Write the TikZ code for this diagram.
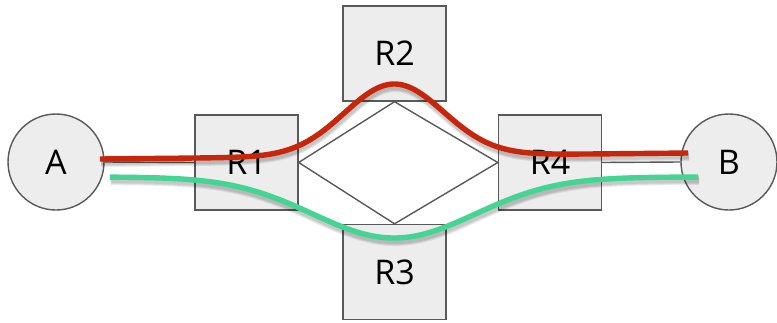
\documentclass[tikz,border=0pt]{standalone}
\usepackage{fontspec}
\setmainfont{Open Sans}
\begin{document}
\begin{tikzpicture}[x=1pt,y=-1pt,
  router/.style={draw=black!65,line width=1.4pt,fill=black!7,minimum width=103pt,minimum height=95pt,inner sep=0pt,font=\fontsize{34}{38}\selectfont},
  host/.style={draw=black!65,line width=1.4pt,fill=black!7,circle,minimum size=96pt,inner sep=0pt,font=\fontsize{34}{38}\selectfont},
  link/.style={draw=black!65,line width=1.4pt},
  route/.style={line width=5.4pt},
  routeshadow/.style={draw=black,opacity=0.08},
]
\useasboundingbox (0,0) rectangle (777,322);

% hosts and routers
\node[host] (A) at (56,162) {A};
\node[host] (B) at (729,162) {B};
\node[router] (R1) at (246.5,162.5) {R1};
\node[router] (R2) at (394.5,53.5) {R2};
\node[router] (R3) at (394.5,272) {R3};
\node[router] (R4) at (550,162.5) {R4};

% links between the devices
\draw[link] (A.east) -- (R1.west);
\draw[link] (R4.east) -- (B.west);
\draw[link] (R1.east) -- (R2.south) -- (R4.west) -- (R3.north) -- cycle;

% route profiles: a straight base with a bell-shaped detour
\def\upper#1{159-6*(#1-100)/588-72*exp(-((#1-394)/70)^2)}
\def\lower#1{177+61*exp(-((#1-394)/115)^2)}

% soft shadows under the two routes
\foreach \w in {10,8,6}{
  \draw[routeshadow,line width=\w pt,shift={(1,3)}]
    plot[domain=100:688,samples=160] (\x,{\upper{\x}});
  \draw[routeshadow,line width=\w pt,shift={(1,3)}]
    plot[domain=110:698,samples=160] (\x,{\lower{\x}});
}

% path through R2
\draw[route,draw={rgb,255:red,200;green,38;blue,10}]
  plot[domain=100:688,samples=160] (\x,{\upper{\x}});
% path through R3
\draw[route,draw={rgb,255:red,68;green,212;blue,148}]
  plot[domain=110:698,samples=160] (\x,{\lower{\x}});
\end{tikzpicture}
\end{document}
